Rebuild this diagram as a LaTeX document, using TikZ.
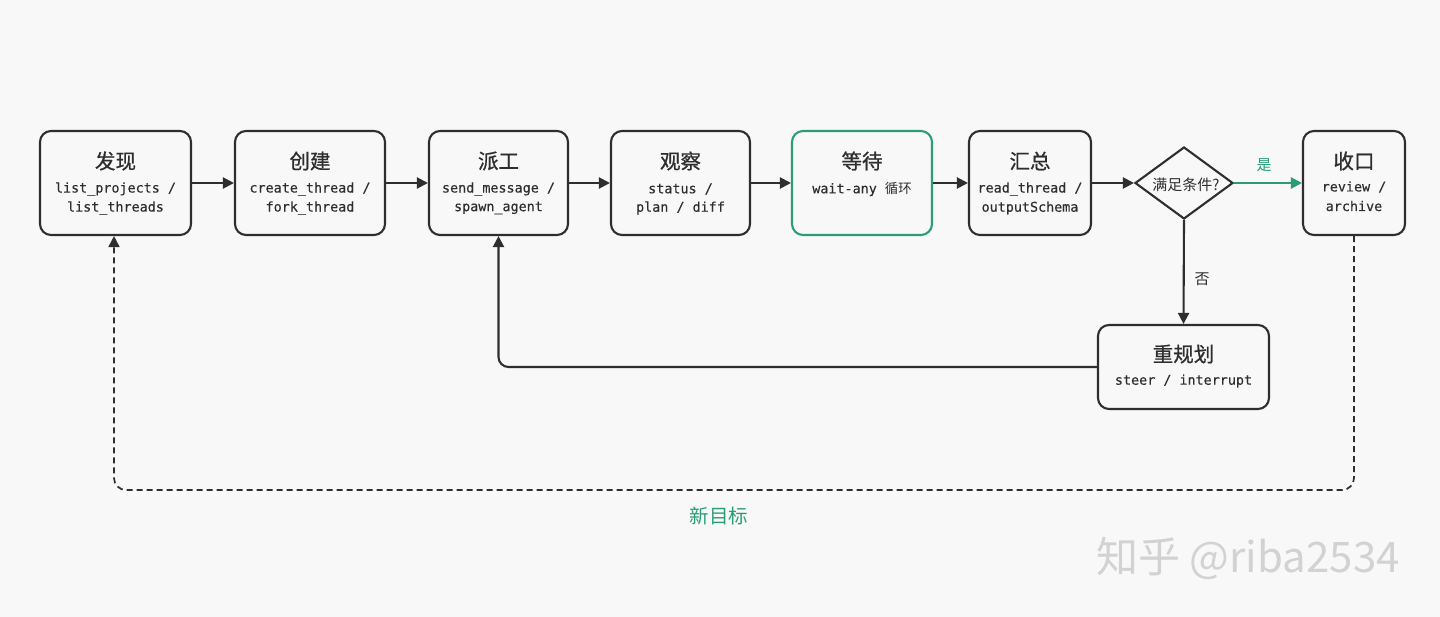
\documentclass[tikz,border=0pt]{standalone}
\usepackage{fontspec}
\setmainfont{DejaVu Sans}
\newfontfamily\cjk{Noto Sans CJK SC}
\newfontfamily\cjkb{Noto Sans CJK SC}[FakeBold=0.8]
\newfontfamily\mono{DejaVu Sans Mono}[FakeBold=0.3]
\usetikzlibrary{arrows.meta,shapes.geometric,calc}
\definecolor{bg}{HTML}{F8F8F8}
\definecolor{ink}{HTML}{2E2E2E}
\definecolor{grn}{HTML}{2A9D78}
\definecolor{wm}{HTML}{D2D2D2}
\tikzset{
  box/.style={draw=ink, line width=2.1pt, rounded corners=11pt, fill=bg, inner sep=0pt},
  ttl/.style={inner sep=0pt, text=ink, font=\cjkb\fontsize{20.5}{24}\selectfont},
  sub/.style={inner sep=0pt, text=ink, font=\mono\fontsize{13.4}{16}\selectfont},
  arr/.style={draw=ink, line width=2.1pt, -{Triangle[length=11pt,width=11pt]}},
  garr/.style={draw=grn, line width=2.1pt, -{Triangle[length=11pt,width=11pt]}},
  lbl/.style={inner sep=0pt, font=\cjk\fontsize{15}{17}\selectfont},
}
\begin{document}
\begin{tikzpicture}[x=1pt,y=-1pt]
\fill[bg] (0,0) rectangle (1440,617);
\useasboundingbox (0,0) rectangle (1440,617);

% boxes
\node[box, minimum width=151pt, minimum height=104pt] (n1) at (115.5,183) {};
\node[box, minimum width=150pt, minimum height=104pt] (n2) at (310,183) {};
\node[box, minimum width=139pt, minimum height=104pt] (n3) at (498.5,183) {};
\node[box, minimum width=139pt, minimum height=104pt] (n4) at (680.5,183) {};
\node[box, draw=grn, minimum width=140pt, minimum height=104pt] (n5) at (862,183) {};
\node[box, minimum width=122pt, minimum height=104pt] (n6) at (1030,183) {};
\node[draw=ink, line width=2.1pt, diamond, fill=bg, minimum width=98pt, minimum height=72pt, inner sep=0pt] (d) at (1184,183) {};
\node[box, minimum width=102pt, minimum height=104pt] (n7) at (1354,183) {};
\node[box, minimum width=171pt, minimum height=84pt] (n8) at (1183.5,367) {};

% texts
\node[ttl] (t1) at (115.5,161) {发现};
\node[sub] (a1) at (115.5,189) {list\_projects /};
\node[sub] (b1) at (115.5,208) {list\_threads};
\node[ttl] (t2) at (310,161) {创建};
\node[sub] (a2) at (310,189) {create\_thread /};
\node[sub] (b2) at (310,208) {fork\_thread};
\node[ttl] (t3) at (498.5,161) {派工};
\node[sub] (a3) at (498.5,189) {send\_message /};
\node[sub] (b3) at (498.5,208) {spawn\_agent};
\node[ttl] (t4) at (680.5,161) {观察};
\node[sub] (a4) at (680.5,189) {status /};
\node[sub] (b4) at (680.5,208) {plan / diff};
\node[ttl] (t5) at (862,161) {等待};
\node[sub] (a5) at (862,189) {wait-any {\cjk 循环}};
\node[ttl] (t6) at (1030,161) {汇总};
\node[sub] (a6) at (1030,189) {read\_thread /};
\node[sub] (b6) at (1030,208) {outputSchema};
\node[lbl, text=ink] (td) at (1186,185) {满足条件?};
\node[ttl] (t7) at (1354,161) {收口};
\node[sub] (a7) at (1354,187) {review /};
\node[sub] (b7) at (1354,206) {archive};
\node[ttl] (t8) at (1183.5,354) {重规划};
\node[sub] (a8) at (1183.5,381) {steer / interrupt};

% connectors
\draw[arr] (n1.east) -- (n2.west);
\draw[arr] (n2.east) -- (n3.west);
\draw[arr] (n3.east) -- (n4.west);
\draw[arr] (n4.east) -- (n5.west);
\draw[arr] (n5.east) -- (n6.west);
\draw[arr] (n6.east) -- (d.west);
\draw[garr] (d.east) -- (n7.west);
\node[lbl, text=grn] (yes) at (1264,165) {是};
\draw[arr] (d.south) -- (n8.north);
\node[lbl, text=ink] (no) at (1202,279) {否};
\draw[arr, rounded corners=10pt] (n8.west) -- (n3.south |- n8.west) -- (n3.south);

\coordinate (c1) at (1354,490);
\coordinate (c2) at (114,490);
\draw[arr, line width=1.7pt, dash pattern=on 6pt off 4pt, rounded corners=12pt] (n7.south) -- (c1) -- (c2) -- (n1.south -| c2);
\node[inner sep=0pt, text=grn, font=\cjk\fontsize{19.5}{22}\selectfont] (goal) at (719,516) {新目标};

% watermark
\node[inner sep=0pt, text=wm, font=\cjk\fontsize{42}{48}\selectfont] (wmk) at (1248,558) {知乎 @riba2534};
\end{tikzpicture}
\end{document}
